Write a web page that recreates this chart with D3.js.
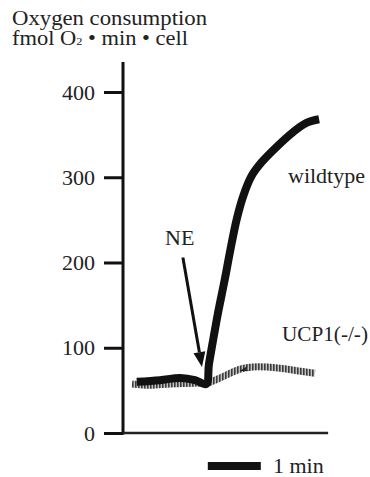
<!DOCTYPE html>
<html>
<head>
<meta charset="utf-8">
<script src="https://cdn.jsdelivr.net/npm/d3@7"></script>
<style>
  body { margin: 0; background: #fff; }
  svg text { font-family: "Liberation Serif", "Times New Roman", serif; fill: #222; }
</style>
</head>
<body>
<svg id="chart" width="370" height="477"></svg>
<script>
// time in minutes, oxygen consumption in fmol O2/min/cell
var wtTime  = [0.26, 0.70, 1.08, 1.36, 1.57, 1.62, 1.70, 1.79, 1.92, 2.02, 2.15, 2.28, 2.43, 2.62, 2.87, 3.21, 3.47, 3.70];
var wtValue = [60,   62,   64.5, 62,   57.5, 80,   109,  140,  180,  213,  252,  280,  302,  318,  334,  353,  364,  368];

var koTime  = [0.17, 0.51, 0.89, 1.36, 1.58, 1.83, 2.21, 2.45, 2.96, 3.28, 3.62];
var koValue = [57.5, 56,   57.5, 58.5, 58.5, 64.5, 75,   77.5, 76,   73,   70];

var yTicks = [0, 100, 200, 300, 400];

var svg = d3.select("#chart");

var x = d3.scaleLinear().domain([0, 1]).range([123, 176]); // 1 min = 53px
var y = d3.scaleLinear().domain([0, 400]).range([433, 92]);

// hatched stroke for the knockout trace
var defs = svg.append("defs");
var pat = defs.append("pattern")
    .attr("id", "hatch")
    .attr("patternUnits", "userSpaceOnUse")
    .attr("width", 3).attr("height", 3);
pat.append("rect").attr("width", 3).attr("height", 3).attr("fill", "#c4c4c4");
pat.append("rect").attr("width", 1.6).attr("height", 3).attr("fill", "#3a3a3a");

// title
var title = svg.append("g");
title.append("text").attr("x", 12).attr("y", 25)
    .attr("textLength", 195).attr("lengthAdjust", "spacingAndGlyphs")
    .style("font-size", "20px").text("Oxygen consumption");
var t2 = title.append("text").attr("x", 12).attr("y", 45)
    .attr("textLength", 176).attr("lengthAdjust", "spacingAndGlyphs")
    .style("font-size", "20px");
t2.append("tspan").text("fmol O");
t2.append("tspan").style("font-size", "11px").text("2");
t2.append("tspan").text(" \u2022 min \u2022 cell");

// y axis
var yAxis = d3.axisLeft(y).tickValues(yTicks).tickSize(19).tickPadding(9);
var yg = svg.append("g").attr("transform", "translate(123,0)").call(yAxis);
yg.select(".domain").remove();
yg.selectAll(".tick line").attr("stroke", "#111").attr("stroke-width", 3);
yg.selectAll(".tick text")
    .style("font-family", "Liberation Serif")
    .style("font-size", "22px")
    .attr("fill", "#222");

svg.append("line")
    .attr("x1", x(0)).attr("x2", x(0))
    .attr("y1", 62).attr("y2", y(0) + 1.5)
    .attr("stroke", "#111").attr("stroke-width", 3);

// x axis (no ticks)
svg.append("line")
    .attr("x1", x(0)).attr("x2", x(3.87))
    .attr("y1", y(0)).attr("y2", y(0))
    .attr("stroke", "#222").attr("stroke-width", 2.5);

var line = d3.line()
    .x(function (d) { return x(d[0]); })
    .y(function (d) { return y(d[1]); })
    .curve(d3.curveCatmullRom.alpha(0.5));

var koData = koTime.map(function (t, i) { return [t, koValue[i]]; });
var wtData = wtTime.map(function (t, i) { return [t, wtValue[i]]; });

svg.append("path")
    .datum(koData)
    .attr("fill", "none")
    .attr("stroke", "url(#hatch)")
    .attr("stroke-width", 7)
    .attr("d", line);

// little dark mark on the knockout trace
svg.append("path")
    .attr("d", "M" + x(2.2) + "," + (y(75) + 2) + " l8,-5 l-2,4 l5,1 z")
    .attr("fill", "#222");

svg.append("path")
    .datum(wtData)
    .attr("fill", "none")
    .attr("stroke", "#111")
    .attr("stroke-width", 8)
    .attr("d", line);

// NE arrow
var ax1 = x(1.13), ay1 = y(206), ax2 = x(1.49), ay2 = y(77.4);
var ang = Math.atan2(ay2 - ay1, ax2 - ax1);
var hl = 15, hw = 6;
var bx = ax2 - hl * Math.cos(ang), by = ay2 - hl * Math.sin(ang);
svg.append("line")
    .attr("x1", ax1).attr("y1", ay1).attr("x2", bx).attr("y2", by)
    .attr("stroke", "#111").attr("stroke-width", 3);
svg.append("path")
    .attr("d", "M" + ax2 + "," + ay2 +
        " L" + (bx + hw * Math.sin(ang)) + "," + (by - hw * Math.cos(ang)) +
        " L" + (bx - hw * Math.sin(ang)) + "," + (by + hw * Math.cos(ang)) + " Z")
    .attr("fill", "#111");

// labels
svg.append("text").attr("x", 165).attr("y", 245).style("font-size", "22px").text("NE");
svg.append("text").attr("x", 288).attr("y", 183).style("font-size", "22px").text("wildtype");
svg.append("text").attr("x", 282).attr("y", 341)
    .attr("textLength", 86).attr("lengthAdjust", "spacingAndGlyphs")
    .style("font-size", "21px").text("UCP1(-/-)");

// 1 min scale bar
svg.append("line")
    .attr("x1", x(1.6)).attr("x2", x(2.6))
    .attr("y1", 466).attr("y2", 466)
    .attr("stroke", "#111").attr("stroke-width", 8);
svg.append("text").attr("x", 273).attr("y", 473).style("font-size", "22px").text("1 min");
</script>
</body>
</html>
